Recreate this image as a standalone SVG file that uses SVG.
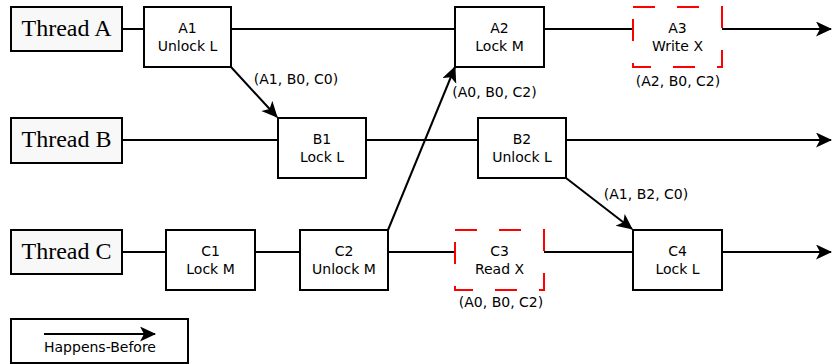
<svg xmlns="http://www.w3.org/2000/svg" width="833" height="364" viewBox="0 0 833 364">
<style>
.th rect{fill:#f8f8f8;stroke:#000;stroke-width:2}
.th text{font-family:"Liberation Serif",serif;font-size:24px;fill:#000;text-anchor:middle}
.nd rect{fill:#fff;stroke:#000;stroke-width:2}
.dn rect{fill:#fff;stroke:#f00;stroke-width:2;stroke-dasharray:22 22}
.nd text,.dn text,.lb{font-family:"DejaVu Sans",sans-serif;font-size:14px;fill:#000;text-anchor:middle}
.ln line{stroke:#000;stroke-width:2;fill:none}
</style>
<defs>
<marker id="ah" markerUnits="userSpaceOnUse" markerWidth="18" markerHeight="16" refX="15" refY="7.5" orient="auto">
<path d="M0,0 L16,7.5 L0,15 L4,7.5 z" fill="#000"/>
</marker>
</defs>
<rect width="833" height="364" fill="#fff"/>
<g id="connectors" class="ln">
<line x1="122" y1="29" x2="144" y2="29"/>
<line x1="231" y1="29" x2="455" y2="29"/>
<line x1="544" y1="29" x2="633" y2="29"/>
<line x1="722" y1="29" x2="831" y2="29" marker-end="url(#ah)"/>
<line x1="122" y1="140" x2="278" y2="140"/>
<line x1="366" y1="140" x2="478" y2="140"/>
<line x1="566" y1="140" x2="831" y2="140" marker-end="url(#ah)"/>
<line x1="122" y1="252" x2="166" y2="252"/>
<line x1="255" y1="252" x2="300" y2="252"/>
<line x1="388" y1="252" x2="455" y2="252"/>
<line x1="544" y1="252" x2="633" y2="252"/>
<line x1="722" y1="252" x2="831" y2="252" marker-end="url(#ah)"/>
<line x1="231" y1="67" x2="277" y2="117" marker-end="url(#ah)"/>
<line x1="388" y1="230" x2="455" y2="67" marker-end="url(#ah)"/>
<line x1="566" y1="178" x2="632" y2="229" marker-end="url(#ah)"/>
<line x1="44" y1="334" x2="155" y2="334" marker-end="url(#ah)"/>
</g>
<g id="threadA" class="th"><rect x="11" y="7" width="111" height="44"/><text x="66.5" y="36">Thread A</text></g>
<g id="threadB" class="th"><rect x="11" y="118" width="111" height="45"/><text x="66.5" y="147">Thread B</text></g>
<g id="threadC" class="th"><rect x="11" y="230" width="111" height="44"/><text x="66.5" y="259">Thread C</text></g>
<g id="A1" class="nd"><rect x="144" y="7" width="87" height="60"/><text x="187.5" y="33">A1</text><text x="187.5" y="50.5">Unlock L</text></g>
<g id="A2" class="nd"><rect x="455" y="7" width="89" height="60"/><text x="499.5" y="33">A2</text><text x="499.5" y="50.5">Lock M</text></g>
<g id="A3" class="dn"><rect x="633" y="7" width="89" height="60"/><text x="677.5" y="33">A3</text><text x="677.5" y="50.5">Write X</text></g>
<g id="B1" class="nd"><rect x="278" y="118" width="88" height="60"/><text x="322" y="144">B1</text><text x="322" y="161.5">Lock L</text></g>
<g id="B2" class="nd"><rect x="478" y="118" width="88" height="60"/><text x="522" y="144">B2</text><text x="522" y="161.5">Unlock L</text></g>
<g id="C1" class="nd"><rect x="166" y="230" width="89" height="60"/><text x="210.5" y="256">C1</text><text x="210.5" y="273.5">Lock M</text></g>
<g id="C2" class="nd"><rect x="300" y="230" width="88" height="60"/><text x="344" y="256">C2</text><text x="344" y="273.5">Unlock M</text></g>
<g id="C3" class="dn"><rect x="455" y="230" width="89" height="60"/><text x="499.5" y="256">C3</text><text x="499.5" y="273.5">Read X</text></g>
<g id="C4" class="nd"><rect x="633" y="230" width="89" height="60"/><text x="677.5" y="256">C4</text><text x="677.5" y="273.5">Lock L</text></g>
<g id="labels">
<text class="lb" x="296" y="84">(A1, B0, C0)</text>
<text class="lb" x="494.5" y="97">(A0, B0, C2)</text>
<text class="lb" x="678" y="86">(A2, B0, C2)</text>
<text class="lb" x="646" y="199">(A1, B2, C0)</text>
<text class="lb" x="501" y="307">(A0, B0, C2)</text>
</g>
<g id="legend">
<rect x="11" y="319" width="177" height="44" fill="none" stroke="#000" stroke-width="2"/>
<text class="lb" x="100" y="352">Happens-Before</text>
</g>
</svg>
